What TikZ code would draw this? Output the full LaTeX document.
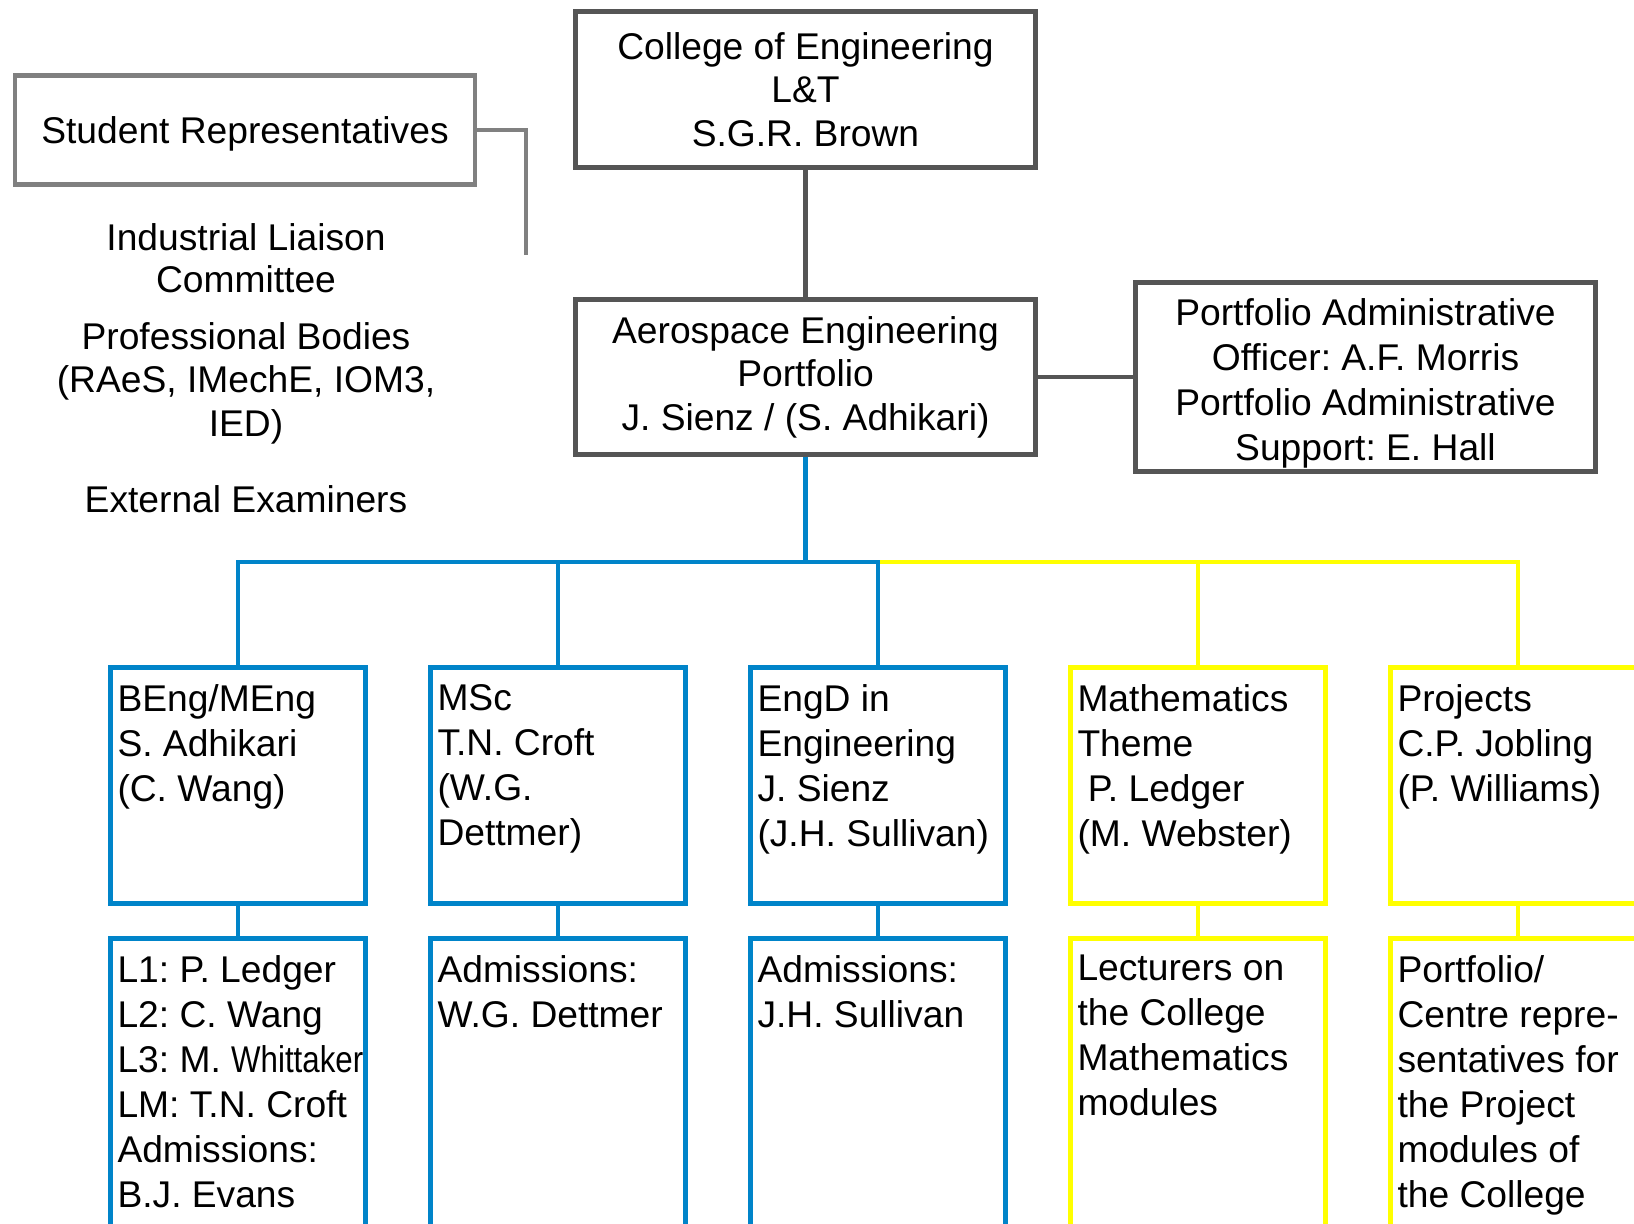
\documentclass[tikz,border=0pt]{standalone}
\usepackage{fontspec}
\setmainfont{Liberation Sans}
\usetikzlibrary{positioning}
\definecolor{boxgray}{RGB}{85,85,85}
\definecolor{repgray}{RGB}{128,128,128}
\definecolor{progblue}{RGB}{0,132,201}
\definecolor{themeyellow}{RGB}{255,255,0}

\tikzset{
  headbox/.style={draw=boxgray, line width=2.4pt, align=center, minimum width=230pt, minimum height=78pt, inner sep=2pt},
  repbox/.style={draw=repgray, line width=2.4pt, align=center, minimum width=230pt, minimum height=54.5pt},
  plain/.style={align=center, inner sep=1pt},
  bluebox/.style={draw=progblue, line width=2.4pt, minimum width=127.5pt, minimum height=118pt},
  yellowbox/.style={draw=themeyellow, line width=2.4pt, minimum width=127.5pt, minimum height=118pt},
  boxtext/.style={anchor=north west, align=left, inner xsep=4.5pt, inner ysep=9.5pt},
  graylink/.style={draw=boxgray, line width=2.4pt},
  replink/.style={draw=repgray, line width=2.4pt},
  bluelink/.style={draw=progblue, line width=2.4pt},
  yellowlink/.style={draw=themeyellow, line width=2.4pt}
}

\begin{document}
\begin{tikzpicture}[x=0.5pt, y=-0.5pt, node distance=160pt, font=\fontsize{18.6pt}{22.5pt}\selectfont\frenchspacing]
  \useasboundingbox (0,0) rectangle (1634,1223);
  \clip (0,0) rectangle (1634,1223);

  % Management
  \node[headbox, font=\fontsize{18.6pt}{21.8pt}\selectfont\frenchspacing] (college) at (805.5,89.5) {College of Engineering\\L\&T\\S.G.R. Brown};
  \node[headbox, minimum height=77.5pt, font=\fontsize{18.6pt}{21.8pt}\selectfont\frenchspacing] (aero) at (805.5,377) {Aerospace Engineering\\Portfolio\\J. Sienz / (S. Adhikari)};
  \node[headbox, minimum height=94.5pt, label={[plain, yshift=-3pt]center:{Portfolio Administrative\\Officer: A.F. Morris\\Portfolio Administrative\\Support: E. Hall}}] (admin) at (1365.5,377) {};

  % Advisory side
  \node[repbox, label={[plain, yshift=-2pt]center:{Student Representatives}}] (srep) at (245,130) {};
  \coordinate (srepend) at (526,255);
  \node[plain, font=\fontsize{18.6pt}{21pt}\selectfont] (ilc) at (246,258.5) {Industrial Liaison\\Committee};
  \node[plain, font=\fontsize{18.6pt}{21.8pt}\selectfont] (bodies) at (246,383) {Professional Bodies\\(RAeS, IMechE, IOM3,\\IED)};
  \node[plain] (examiners) at (246,499) {External Examiners};

  % Programmes and themes
  \node[bluebox, label={[boxtext]north west:{BEng/MEng\\S. Adhikari\\(C. Wang)}}] (beng) at (238,785.5) {};
  \node[bluebox, right of=beng, label={[boxtext]north west:{MSc\\T.N. Croft\\(W.G.\\Dettmer)}}] (msc) {};
  \node[bluebox, right of=msc, label={[boxtext]north west:{EngD in\\Engineering\\J. Sienz\\(J.H. Sullivan)}}] (engd) {};
  \node[yellowbox, right of=engd, label={[boxtext]north west:{Mathematics\\Theme\\\hspace*{0.28em}P. Ledger\\(M. Webster)}}] (maths) {};
  \node[yellowbox, right of=maths, label={[boxtext]north west:{Projects\\C.P. Jobling\\(P. Williams)}}] (proj) {};

  % Staff
  \node[bluebox, minimum height=200pt, below=15pt of beng, label={[boxtext]north west:{L1: P. Ledger\\L2: C. Wang\\L3: M. \scalebox{0.84}[1]{Whittaker}\\LM: T.N. Croft\\Admissions:\\B.J. Evans}}] (bengstaff) {};
  \node[bluebox, minimum height=200pt, below=15pt of msc, label={[boxtext]north west:{Admissions:\\W.G. Dettmer}}] (mscstaff) {};
  \node[bluebox, minimum height=200pt, below=15pt of engd, label={[boxtext]north west:{Admissions:\\J.H. Sullivan}}] (engdstaff) {};
  \node[yellowbox, minimum height=200pt, below=15pt of maths, label={[boxtext]north west:{Lecturers on\\the College\\Mathematics\\modules}}] (mathsstaff) {};
  \node[yellowbox, minimum height=200pt, below=15pt of proj, label={[boxtext]north west:{Portfolio/\\Centre repre-\\sentatives for\\the Project\\modules of\\the College}}] (projstaff) {};

  \coordinate (bus) at (805.5,562);

  % Connectors
  \draw[graylink] (college) -- (aero);
  \draw[graylink] (aero) -- (admin);
  \draw[replink] (srep.east) -| (srepend);
  \draw[yellowlink] (engd.north |- bus) -| (proj.north);
  \draw[yellowlink] (maths.north |- bus) -- (maths.north);
  \draw[bluelink] (aero.south) -- (bus);
  \draw[bluelink] (beng.north) |- (bus) -| (engd.north);
  \draw[bluelink] (msc.north |- bus) -- (msc.north);
  \draw[bluelink] (beng) -- (bengstaff);
  \draw[bluelink] (msc) -- (mscstaff);
  \draw[bluelink] (engd) -- (engdstaff);
  \draw[yellowlink] (maths) -- (mathsstaff);
  \draw[yellowlink] (proj) -- (projstaff);
\end{tikzpicture}
\end{document}
